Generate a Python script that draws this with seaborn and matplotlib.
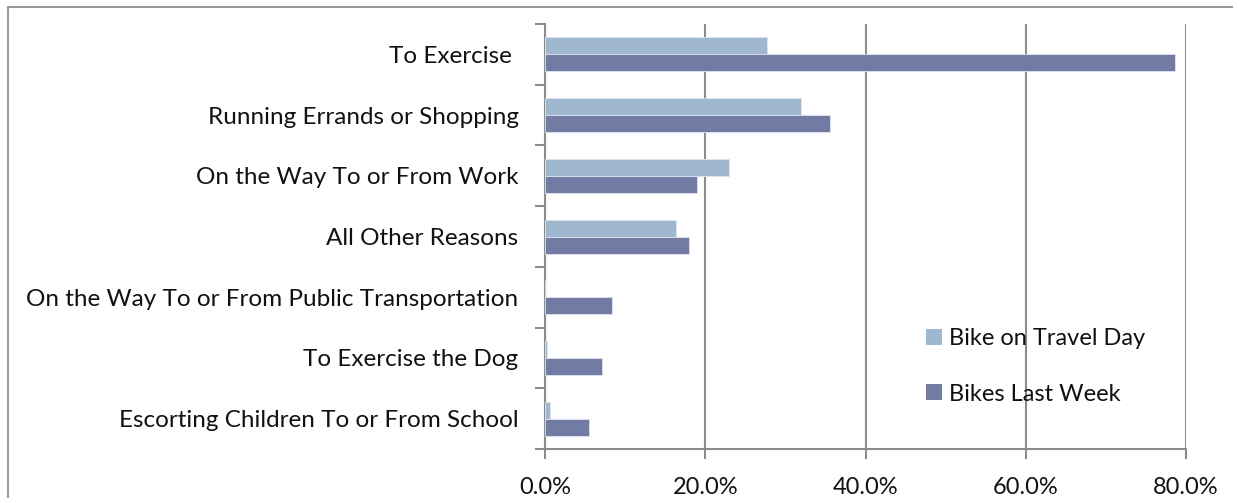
import matplotlib
matplotlib.use("Agg")
import matplotlib.pyplot as plt
from matplotlib.ticker import FuncFormatter, FixedLocator
import numpy as np
import pandas as pd
import seaborn as sns

categories = [
    "To Exercise ",
    "Running Errands or Shopping",
    "On the Way To or From Work",
    "All Other Reasons",
    "On the Way To or From Public Transportation",
    "To Exercise the Dog",
    "Escorting Children To or From School",
]
travel_day = [0.277, 0.320, 0.230, 0.163, 0.000, 0.002, 0.006]
last_week = [0.786, 0.356, 0.190, 0.180, 0.084, 0.071, 0.055]
series_names = ["Bike on Travel Day", "Bikes Last Week"]
x_ticks = [0.0, 0.2, 0.4, 0.6, 0.8]

df = pd.DataFrame({
    "reason": categories * 2,
    "share": travel_day + last_week,
    "series": [series_names[0]] * len(categories) + [series_names[1]] * len(categories),
})

sns.set_theme(style="white")
plt.rcParams["font.family"] = ["Lato", "DejaVu Sans"]

fig = plt.figure(figsize=(12.33, 4.98), dpi=100)
ax = fig.add_axes([545 / 1233, 1 - 449 / 498, (1186 - 545) / 1233, (449 - 24) / 498])

palette = {series_names[0]: "#A0B8CF", series_names[1]: "#717BA3"}
sns.barplot(data=df, y="reason", x="share", hue="series", hue_order=series_names,
            order=categories, palette=palette, orient="h", width=0.56,
            saturation=1, edgecolor="#dfe4ee", linewidth=0.6, ax=ax, zorder=3)

ax.set_xlim(0, 0.8)
ax.set_ylim(len(categories) - 0.5, -0.5)
ax.set_xlabel("")
ax.set_ylabel("")

grid_col = "#8c8c8c"
ax.xaxis.set_major_locator(FixedLocator(x_ticks))
ax.xaxis.set_major_formatter(FuncFormatter(lambda v, p: f"{v * 100:.1f}%"))
ax.grid(axis="x", color=grid_col, linewidth=1.5, zorder=0)
ax.grid(axis="y", visible=False)

for side in ["top", "right"]:
    ax.spines[side].set_visible(False)
for side in ["left", "bottom"]:
    ax.spines[side].set_color(grid_col)
    ax.spines[side].set_linewidth(1.5)

ax.tick_params(axis="x", which="major", direction="out", length=7, width=1.5,
               color=grid_col, labelsize=17, pad=13, labelcolor="#111111", bottom=True)
ax.tick_params(axis="y", which="major", length=0, labelsize=17.5, pad=19, labelcolor="#111111")
ax.yaxis.set_minor_locator(FixedLocator(np.arange(-0.5, len(categories), 1.0)))
ax.tick_params(axis="y", which="minor", direction="out", length=7, width=1.5,
               color=grid_col, left=True)

leg = ax.legend(loc="upper left", bbox_to_anchor=(0.58, 0.306), frameon=False,
                fontsize=17, handlelength=0.65, handleheight=0.65, handletextpad=0.3,
                labelspacing=1.45, borderaxespad=0)
for t in leg.get_texts():
    t.set_color("#111111")
for h in leg.legend_handles:
    h.set_edgecolor("none")

# figure frame along the top and left edges
fig.add_artist(plt.Line2D([8 / 1233, 1.0], [1 - 7 / 498, 1 - 7 / 498], transform=fig.transFigure,
                          color="#9a9a9a", linewidth=1.5))
fig.add_artist(plt.Line2D([8 / 1233, 8 / 1233], [0.0, 1 - 7 / 498], transform=fig.transFigure,
                          color="#9a9a9a", linewidth=1.5))

fig.savefig("out.png", dpi=100, facecolor="white")
